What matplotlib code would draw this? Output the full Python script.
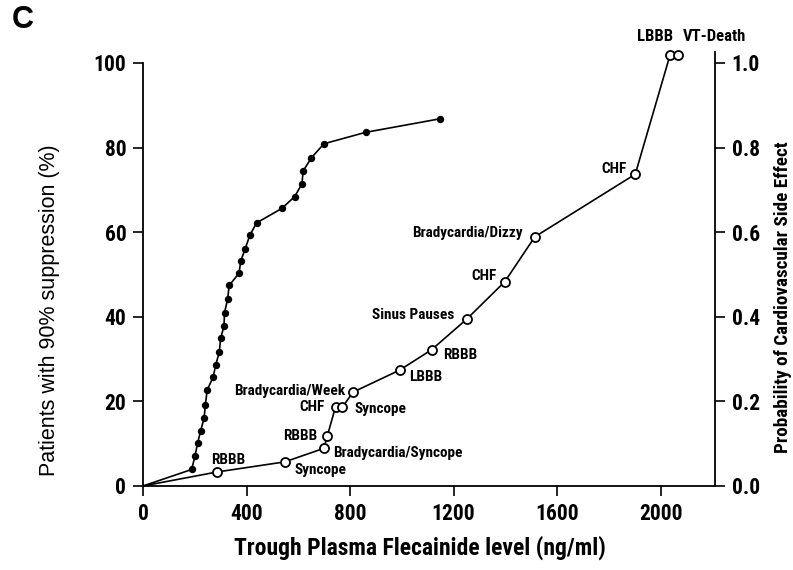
import matplotlib
matplotlib.use('Agg')
import matplotlib.pyplot as plt

NARROW = ['Roboto Condensed', 'Liberation Sans Narrow', 'DejaVu Sans']
REGULAR = ['Liberation Sans', 'DejaVu Sans']

# Patients with 90% suppression (left axis, filled points)
supp_level = [0, 188, 201, 211, 223, 236, 241, 248, 271, 281, 295, 300, 313, 315, 327,
              333, 371, 378, 395, 413, 439, 536, 586, 614, 619, 651, 699, 860, 1147]
supp_pct = [0, 3.9, 7.1, 10.1, 13.1, 16.0, 19.1, 22.7, 25.7, 28.6, 31.7, 34.9, 37.8, 41.0,
            44.1, 47.4, 50.3, 53.2, 56.1, 59.3, 62.2, 65.6, 68.4, 71.4, 74.5, 77.6, 80.9,
            83.6, 86.8]

# Cardiovascular side effects (right axis, open points)
side_level = [0, 285, 548, 699, 712, 744, 770, 812, 992, 1115, 1250, 1398, 1514, 1902,
              2037, 2066]
side_prob = [0, 0.033, 0.057, 0.089, 0.118, 0.187, 0.186, 0.222, 0.274, 0.322, 0.394,
             0.483, 0.589, 0.737, 1.02, 1.02]
side_labels = ['', 'RBBB', 'Syncope', 'Bradycardia/Syncope', 'RBBB', 'CHF', 'Syncope',
               'Bradycardia/Week', 'LBBB', 'RBBB', 'Sinus Pauses', 'CHF',
               'Bradycardia/Dizzy', 'CHF', 'LBBB', 'VT-Death']

# label offsets in points (dx, dy, ha)
label_pos = [None, (-4, 9, 'left'), (7, -6, 'left'), (7, -3, 'left'), (-7, 0, 'right'),
             (-8, 0, 'right'), (9, -1, 'left'), (-6, 1, 'right'), (7, -5, 'left'),
             (8, -4, 'left'), (-9, 3, 'right'), (-6, 4, 'right'), (-9, 3, 'right'),
             (-6, 4, 'right'), (2, 13, 'right'), (4, 13, 'left')]

fig = plt.figure(figsize=(7.93, 5.70), dpi=100)
ax = fig.add_axes([0.1803, 0.1474, 0.7213, 0.7614])
ax2 = ax.twinx()

ax.plot(supp_level, supp_pct, color='black', lw=1.2, marker='o', ms=4.3,
        markevery=list(range(1, len(supp_level))), zorder=3)
ax2.plot(side_level, side_prob, color='black', lw=1.2, marker='o', ms=6.5,
         mfc='white', mec='black', mew=1.3,
         markevery=list(range(1, len(side_level))), clip_on=False, zorder=3)

for x, y, lab, pos in zip(side_level, side_prob, side_labels, label_pos):
    if pos is None:
        continue
    dx, dy, ha = pos
    size = 12 if y > 1 else 11
    ax2.annotate(lab, (x, y), xytext=(dx, dy), textcoords='offset points',
                 ha=ha, va='center', fontsize=size, fontweight='bold', family=NARROW)

ax.set_xlim(0, 2210)
ax.set_ylim(0, 102.6)
ax2.set_ylim(0, 1.026)
ax.set_xticks([0, 400, 800, 1200, 1600, 2000])
ax.set_yticks([0, 20, 40, 60, 80, 100])
ax2.set_yticks([0.0, 0.2, 0.4, 0.6, 0.8, 1.0])
ax2.set_yticklabels(['0.0', '0.2', '0.4', '0.6', '0.8', '1.0'])

for a in (ax, ax2):
    a.spines['top'].set_visible(False)
    for s in a.spines.values():
        s.set_linewidth(1.3)
    a.tick_params(direction='out', length=7, width=1.2, labelsize=15.5, pad=5)
    for t in a.get_xticklabels() + a.get_yticklabels():
        t.set_fontweight('bold')
        t.set_family(NARROW)
ax.spines['right'].set_visible(False)
ax.spines['left'].set_bounds(0, 100)
ax2.spines['left'].set_visible(False)
ax2.spines['bottom'].set_visible(False)

fig.text(420 / 793, 1 - 548 / 570, 'Trough Plasma Flecainide level (ng/ml)', ha='center',
         va='center', fontsize=17, fontweight='bold', family=NARROW)
fig.text(50 / 793, 1 - 310 / 570, 'Patients with 90% suppression (%)', ha='center',
         va='center', rotation=90, fontsize=15.5, family=REGULAR)
fig.text(783 / 793, 1 - 297 / 570, 'Probability of Cardiovascular Side Effect', ha='center',
         va='center', rotation=90, fontsize=13.8, fontweight='bold', family=NARROW)
fig.text(12 / 793, 1 - 20 / 570, 'C', ha='left', va='center', fontsize=22,
         fontweight='bold', family=REGULAR)

fig.savefig('out.png', dpi=100)
